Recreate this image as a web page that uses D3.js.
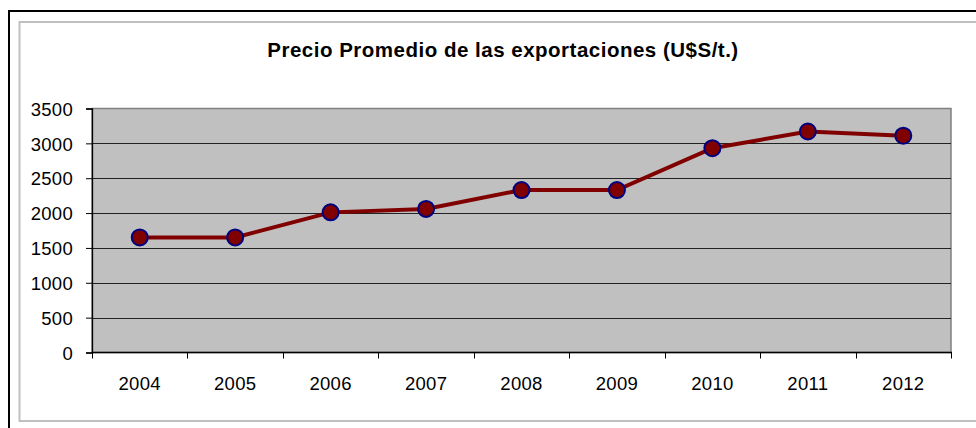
<!DOCTYPE html>
<html>
<head>
<meta charset="utf-8">
<script src="https://cdn.jsdelivr.net/npm/d3@7"></script>
<style>
  body { margin: 0; background: #fff; }
  svg { display: block; }
  svg text { font-family: "Liberation Sans", Arial, sans-serif; }
</style>
</head>
<body>
<div id="chart"></div>
<script>
// chart data
var years = ["2004", "2005", "2006", "2007", "2008", "2009", "2010", "2011", "2012"];
var precios = [1650, 1650, 2010, 2060, 2330, 2330, 2930, 3170, 3110];
var yTicks = [0, 500, 1000, 1500, 2000, 2500, 3000, 3500];
var titulo = "Precio Promedio de las exportaciones (U$S/t.)";

var width = 976, height = 428;
var plot = {left: 92, top: 108.5, right: 951, bottom: 352.5};

var svg = d3.select("#chart").append("svg")
  .attr("width", width).attr("height", height);

// frames (run off the right / bottom edge like the original capture)
svg.append("rect")
  .attr("x", 9).attr("y", 11).attr("width", 1000).attr("height", 440)
  .attr("fill", "#fff").attr("stroke", "#000").attr("stroke-width", 2);
svg.append("rect")
  .attr("x", 19.5).attr("y", 22).attr("width", 1000).attr("height", 399)
  .attr("fill", "#fff").attr("stroke", "#c0c0c0").attr("stroke-width", 2);

svg.append("text")
  .attr("x", 503).attr("y", 56.5)
  .attr("text-anchor", "middle")
  .style("font-size", "20.5px").style("font-weight", "bold")
  .style("letter-spacing", "0.5px")
  .text(titulo);

var x = d3.scaleBand().domain(years).range([plot.left, plot.right]);
var y = d3.scaleLinear().domain([0, 3500]).range([plot.bottom, plot.top]);

// plot area
svg.append("rect")
  .attr("x", plot.left).attr("y", plot.top)
  .attr("width", plot.right - plot.left).attr("height", plot.bottom - plot.top)
  .attr("fill", "#c0c0c0").attr("stroke", "#808080").attr("stroke-width", 1.5);

// gridlines
svg.append("g").selectAll("line")
  .data(yTicks.filter(function(d) { return d > 0 && d < 3500; }))
  .enter().append("line")
  .attr("x1", plot.left).attr("x2", plot.right)
  .attr("y1", function(d) { return Math.round(y(d)) + 0.5; })
  .attr("y2", function(d) { return Math.round(y(d)) + 0.5; })
  .attr("stroke", "#222").attr("stroke-width", 1);

// y axis
var yAxis = svg.append("g")
  .attr("transform", "translate(" + plot.left + ",0)")
  .call(d3.axisLeft(y).tickValues(yTicks).tickFormat(d3.format("d"))
    .tickSize(6).tickPadding(13));
yAxis.attr("font-family", null);
yAxis.select(".domain").attr("stroke", "#000").attr("stroke-width", 1.3);
yAxis.selectAll(".tick line").attr("stroke", "#000");
yAxis.selectAll("text")
  .style("font-size", "18.5px").style("letter-spacing", "0.3px")
  .attr("fill", "#000").attr("dy", "0.36em");

// x axis: ticks between categories
var xAxis = svg.append("g")
  .attr("transform", "translate(0," + plot.bottom + ")");
xAxis.append("line")
  .attr("x1", plot.left).attr("x2", plot.right + 1)
  .attr("stroke", "#000").attr("stroke-width", 1.5);
xAxis.selectAll(".sep")
  .data(years.concat(["end"]))
  .enter().append("line")
  .attr("class", "sep")
  .attr("x1", function(d, i) { return Math.round(plot.left + i * x.step()) + 0.5; })
  .attr("x2", function(d, i) { return Math.round(plot.left + i * x.step()) + 0.5; })
  .attr("y1", 0).attr("y2", 6)
  .attr("stroke", "#000");
xAxis.selectAll(".lbl")
  .data(years)
  .enter().append("text")
  .attr("class", "lbl")
  .attr("x", function(d) { return x(d) + x.bandwidth() / 2; })
  .attr("y", 37)
  .attr("text-anchor", "middle")
  .style("font-size", "18.5px").style("letter-spacing", "0.3px")
  .text(function(d) { return d; });

// series
var line = d3.line()
  .x(function(d, i) { return x(years[i]) + x.bandwidth() / 2; })
  .y(function(d) { return y(d); });

svg.append("path")
  .datum(precios)
  .attr("d", line)
  .attr("fill", "none")
  .attr("stroke", "#800000")
  .attr("stroke-width", 4);

svg.append("g").selectAll("circle")
  .data(precios)
  .enter().append("circle")
  .attr("cx", function(d, i) { return x(years[i]) + x.bandwidth() / 2; })
  .attr("cy", function(d) { return y(d); })
  .attr("r", 8)
  .attr("fill", "#800000")
  .attr("stroke", "#000080")
  .attr("stroke-width", 2);
</script>
</body>
</html>
